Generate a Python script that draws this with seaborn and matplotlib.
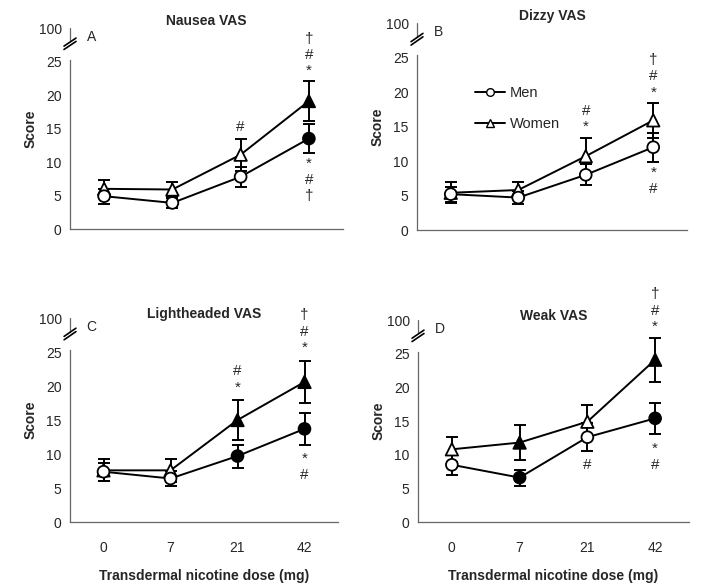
import matplotlib
matplotlib.use('Agg')
import matplotlib.pyplot as plt
from matplotlib.lines import Line2D
import seaborn as sns
import pandas as pd

doses = ['0', '7', '21', '42']

nausea_men = [4.9, 3.9, 7.8, 13.5]
nausea_men_err = [1.1, 0.7, 1.5, 2.2]
nausea_men_filled = [False, False, False, True]
nausea_women = [6.0, 5.9, 11.1, 19.1]
nausea_women_err = [1.3, 1.1, 2.4, 3.0]
nausea_women_filled = [False, False, False, True]
# significance symbols: (dose index, centre y, stacked symbols)
nausea_marks = [(2, 15.3, '#'), (3, 26.0, '†\n#\n*'), (3, 7.3, '*\n#\n†')]

dizzy_men = [5.2, 4.7, 8.0, 12.0]
dizzy_men_err = [1.1, 0.9, 1.5, 2.1]
dizzy_men_filled = [False, False, False, False]
dizzy_women = [5.4, 5.8, 10.7, 15.9]
dizzy_women_err = [1.5, 1.2, 2.6, 2.5]
dizzy_women_filled = [False, False, False, False]
dizzy_marks = [(2, 16.1, '#\n*'), (3, 22.3, '†\n#\n*'), (3, 7.1, '*\n#')]

light_men = [7.4, 6.4, 9.7, 13.7]
light_men_err = [1.3, 1.1, 1.7, 2.3]
light_men_filled = [False, False, True, True]
light_women = [7.6, 7.6, 15.0, 20.6]
light_women_err = [1.6, 1.7, 3.0, 3.1]
light_women_filled = [False, False, True, True]
light_marks = [(2, 21.0, '#\n*'), (3, 28.0, '†\n#\n*'), (3, 8.1, '*\n#')]

weak_men = [8.5, 6.6, 12.6, 15.4]
weak_men_err = [1.5, 1.2, 2.1, 2.3]
weak_men_filled = [False, True, False, True]
weak_women = [10.8, 11.8, 14.9, 24.1]
weak_women_err = [1.9, 2.6, 2.5, 3.3]
weak_women_filled = [False, True, False, True]
weak_marks = [(2, 8.5, '#'), (3, 31.4, '†\n#\n*'), (3, 9.7, '*\n#')]

sns.set_style('white')
plt.rcParams['font.family'] = ['Liberation Sans', 'DejaVu Sans']
plt.rcParams['font.size'] = 10

AXIS_GREY = '#666666'
NARROW = ['Liberation Sans Narrow', 'Liberation Sans']


def draw_panel(ax, title, letter, men, men_err, men_filled,
               women, women_err, women_filled, marks, bottom_row, legend=False):
    rows = []
    for group, vals, errs, fills in [('Women', women, women_err, women_filled),
                                     ('Men', men, men_err, men_filled)]:
        for i, d in enumerate(doses):
            rows.append({'group': group, 'pos': i, 'dose': d,
                         'score': vals[i], 'err': errs[i], 'filled': fills[i]})
    df = pd.DataFrame(rows)

    sns.lineplot(data=df, x='pos', y='score', hue='group',
                 palette={'Men': 'black', 'Women': 'black'},
                 errorbar=None, linewidth=1.4, legend=False, ax=ax, zorder=2)
    ax.errorbar(df['pos'], df['score'], yerr=df['err'], fmt='none',
                ecolor='black', elinewidth=1.4, capsize=4, capthick=1.4, zorder=2)
    for group, marker, size in [('Women', '^', 80), ('Men', 'o', 72)]:
        sub = df[df['group'] == group]
        sns.scatterplot(data=sub, x='pos', y='score', hue='filled',
                        palette={True: 'black', False: 'white'}, marker=marker,
                        s=size, edgecolor='black', linewidth=1.3, legend=False,
                        ax=ax, zorder=4 if group == 'Men' else 3)

    for i, y, sym in marks:
        ax.text(i, y, sym, ha='center', va='center', multialignment='center',
                fontsize=11, linespacing=1.2)

    ax.set_xlim(-0.5, 3.5)
    ax.set_ylim(0, 30)
    ax.set_yticks([0, 5, 10, 15, 20, 25, 30])
    ax.set_yticklabels(['0', '5', '10', '15', '20', '25', '100'])
    ax.set_xticks(range(len(doses)))
    if bottom_row:
        ax.set_xticklabels(doses, family=NARROW)
        ax.set_xlabel('Transdermal nicotine dose (mg)', fontweight='bold',
                      family=NARROW, labelpad=10)
    else:
        ax.set_xticklabels([])
        ax.set_xlabel('')
    ax.set_ylabel('Score', fontweight='bold', labelpad=1)
    ax.set_title(title, fontweight='bold', fontsize=10, pad=0)
    ax.text(0.08, 0.955, letter, transform=ax.transAxes, ha='center', va='center', fontsize=10)

    for side in ['top', 'right']:
        ax.spines[side].set_visible(False)
    for side in ['left', 'bottom']:
        ax.spines[side].set_color(AXIS_GREY)
        ax.spines[side].set_linewidth(0.9)
    ax.spines['left'].set_bounds(0, 25.3)
    ax.plot([0, 0], [28.0, 30], color=AXIS_GREY, lw=0.9, clip_on=False,
            transform=ax.get_yaxis_transform())
    for off in [0, 0.5]:
        ax.plot([-0.022, 0.022], [26.8 + off, 28.0 + off], color='black', lw=1.2,
                clip_on=False, transform=ax.get_yaxis_transform())
    ax.tick_params(axis='both', direction='out', length=4, width=0.9,
                   color=AXIS_GREY, labelsize=10)
    ax.tick_params(axis='y', pad=2)
    ax.tick_params(axis='x', pad=10)
    ax.grid(False)

    if legend:
        handles = [Line2D([0], [0], color='black', lw=1.4, marker='o',
                          markerfacecolor='white', markeredgecolor='black', markersize=5.5),
                   Line2D([0], [0], color='black', lw=1.4, marker='^',
                          markerfacecolor='white', markeredgecolor='black', markersize=5.5)]
        ax.legend(handles, ['Men', 'Women'], loc='upper left',
                  bbox_to_anchor=(0.168, 0.758), frameon=False, handlelength=2.0,
                  labelspacing=1.15, handletextpad=0.35, fontsize=10.5)


fig = plt.figure(figsize=(7.05, 5.88), dpi=100)
ax_a = fig.add_axes([70 / 705, 0.6105, 273 / 705, 201 / 588])
ax_b = fig.add_axes([417 / 705, 0.6088, 270 / 705, 207 / 588])
ax_c = fig.add_axes([70 / 705, 0.1122, 268 / 705, 204 / 588])
ax_d = fig.add_axes([418 / 705, 0.1122, 271 / 705, 202 / 588])

draw_panel(ax_a, 'Nausea VAS', 'A', nausea_men, nausea_men_err, nausea_men_filled,
           nausea_women, nausea_women_err, nausea_women_filled, nausea_marks, False)
draw_panel(ax_b, 'Dizzy VAS', 'B', dizzy_men, dizzy_men_err, dizzy_men_filled,
           dizzy_women, dizzy_women_err, dizzy_women_filled, dizzy_marks, False, legend=True)
draw_panel(ax_c, 'Lightheaded VAS', 'C', light_men, light_men_err, light_men_filled,
           light_women, light_women_err, light_women_filled, light_marks, True)
draw_panel(ax_d, 'Weak VAS', 'D', weak_men, weak_men_err, weak_men_filled,
           weak_women, weak_women_err, weak_women_filled, weak_marks, True)

fig.savefig('out.png', dpi=100)
